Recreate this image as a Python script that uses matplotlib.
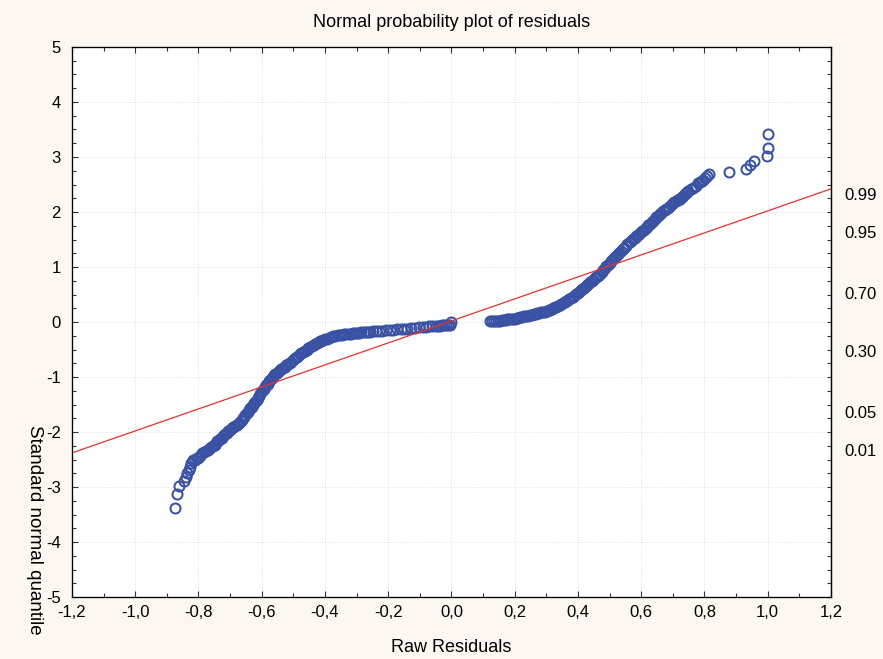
from statistics import NormalDist

import matplotlib
matplotlib.use("Agg")
from matplotlib import pyplot as plt
from matplotlib.ticker import MultipleLocator, FixedLocator

# raw residuals (x) and their standard normal quantiles (y)
raw_residuals = [
    # lower tail
    -0.874, -0.867, -0.861, -0.846, -0.840, -0.835, -0.830, -0.827, -0.824, -0.816,
    -0.810, -0.805, -0.801, -0.795, -0.788, -0.783, -0.777, -0.771, -0.766, -0.760, -0.753,
    # dense lower part
    -0.748, -0.744, -0.740, -0.736, -0.731, -0.727, -0.723, -0.719, -0.715, -0.711,
    -0.706, -0.700, -0.695, -0.690, -0.685, -0.679,
    -0.675, -0.671, -0.667, -0.663, -0.659, -0.656, -0.652, -0.648, -0.644, -0.640,
    -0.636, -0.632, -0.628, -0.624, -0.620, -0.616, -0.612, -0.608, -0.605, -0.601,
    -0.597, -0.593, -0.589, -0.585, -0.581, -0.577, -0.573, -0.569, -0.565, -0.561,
    -0.557, -0.553, -0.548, -0.543, -0.538, -0.532, -0.527, -0.522, -0.516, -0.511,
    -0.506, -0.500, -0.494, -0.489, -0.484, -0.479, -0.475, -0.470, -0.464, -0.458,
    -0.453, -0.447, -0.441, -0.436, -0.430, -0.425, -0.420, -0.415, -0.411, -0.406,
    -0.400, -0.394, -0.388, -0.381, -0.374, -0.367, -0.360, -0.353,
    # flat part up to zero
    -0.346, -0.339, -0.332, -0.325, -0.318, -0.311, -0.305, -0.299, -0.292, -0.285,
    -0.278, -0.271, -0.264, -0.257, -0.248, -0.238, -0.228, -0.218, -0.207, -0.194,
    -0.184, -0.172, -0.160, -0.150, -0.141, -0.128, -0.115, -0.104, -0.090, -0.080,
    -0.070, -0.060, -0.050, -0.041, -0.036, -0.030, -0.024, -0.018, -0.012, -0.006, 0.000,
    # positive group
    0.122, 0.128, 0.134, 0.140, 0.146, 0.153, 0.159, 0.165, 0.171, 0.177,
    0.183, 0.189, 0.194, 0.200, 0.206, 0.212, 0.218, 0.224, 0.230, 0.236,
    0.242, 0.248, 0.254, 0.260, 0.266, 0.272, 0.278, 0.284, 0.290, 0.296, 0.302,
    0.307, 0.312, 0.317, 0.322, 0.327, 0.332, 0.337, 0.343,
    0.348, 0.353, 0.358, 0.363, 0.368, 0.373, 0.378, 0.384,
    0.389, 0.394, 0.399, 0.404, 0.409, 0.414, 0.419, 0.424, 0.428,
    0.433, 0.438, 0.443, 0.448, 0.453, 0.458, 0.463, 0.470,
    0.475, 0.480, 0.485, 0.490, 0.495, 0.500, 0.505, 0.511,
    0.516, 0.521, 0.526, 0.531, 0.536, 0.541, 0.546, 0.551, 0.556, 0.564,
    0.569, 0.574, 0.579, 0.584, 0.589, 0.594, 0.599, 0.604, 0.609, 0.614, 0.618,
    0.623, 0.628, 0.633, 0.638, 0.643, 0.648, 0.653, 0.659,
    0.664, 0.669, 0.674, 0.679, 0.684, 0.689, 0.694, 0.700,
    0.705, 0.710, 0.715, 0.719, 0.723, 0.728, 0.733, 0.738, 0.742, 0.745,
    # upper tail
    0.749, 0.757, 0.765, 0.772, 0.780, 0.786, 0.791, 0.797, 0.802, 0.808, 0.814,
    0.877, 0.933, 0.944, 0.957, 0.999, 1.002, 1.001,
]
normal_quantiles = [
    -3.38, -3.13, -2.99, -2.89, -2.82, -2.75, -2.69, -2.63, -2.57, -2.51,
    -2.50, -2.48, -2.47, -2.44, -2.39, -2.37, -2.34, -2.33, -2.31, -2.28, -2.25,
    -2.23, -2.20, -2.17, -2.14, -2.12, -2.10, -2.08, -2.06, -2.04, -2.02,
    -1.99, -1.96, -1.93, -1.91, -1.89, -1.87,
    -1.85, -1.83, -1.80, -1.78, -1.75, -1.72, -1.69, -1.66, -1.63, -1.60,
    -1.57, -1.54, -1.51, -1.48, -1.45, -1.42, -1.38, -1.34, -1.31, -1.27,
    -1.24, -1.21, -1.18, -1.15, -1.12, -1.08, -1.05, -1.02, -1.00, -0.97,
    -0.95, -0.93, -0.91, -0.88, -0.86, -0.84, -0.81, -0.79, -0.76, -0.74,
    -0.72, -0.69, -0.66, -0.64, -0.61, -0.59, -0.57, -0.545, -0.52, -0.50,
    -0.48, -0.455, -0.435, -0.415, -0.40, -0.38, -0.365, -0.35, -0.34, -0.33,
    -0.315, -0.30, -0.285, -0.27, -0.26, -0.25, -0.24, -0.235,
    -0.23, -0.225, -0.22, -0.215, -0.21, -0.205, -0.20, -0.20, -0.195, -0.19,
    -0.185, -0.18, -0.178, -0.175, -0.17, -0.165, -0.16, -0.155, -0.15, -0.145,
    -0.14, -0.135, -0.13, -0.125, -0.12, -0.112, -0.105, -0.098, -0.09, -0.085,
    -0.08, -0.075, -0.07, -0.066, -0.065, -0.062, -0.06, -0.058, -0.055, -0.05, 0.0,
    0.010, 0.012, 0.015, 0.018, 0.022, 0.027, 0.032, 0.037, 0.042, 0.046,
    0.050, 0.053, 0.055, 0.062, 0.070, 0.078, 0.086, 0.094, 0.102, 0.110,
    0.118, 0.127, 0.135, 0.143, 0.151, 0.159, 0.167, 0.175, 0.183, 0.191, 0.200,
    0.212, 0.225, 0.238, 0.252, 0.266, 0.280, 0.295, 0.31,
    0.325, 0.342, 0.36, 0.378, 0.396, 0.415, 0.435, 0.455,
    0.478, 0.502, 0.527, 0.552, 0.577, 0.602, 0.627, 0.652, 0.673,
    0.697, 0.721, 0.745, 0.769, 0.793, 0.817, 0.840, 0.873,
    0.905, 0.94, 0.975, 1.01, 1.04, 1.07, 1.105, 1.145,
    1.175, 1.205, 1.235, 1.26, 1.29, 1.32, 1.35, 1.38, 1.41, 1.455,
    1.48, 1.505, 1.53, 1.555, 1.58, 1.605, 1.63, 1.655, 1.68, 1.705, 1.727,
    1.755, 1.785, 1.815, 1.845, 1.875, 1.905, 1.935, 1.964,
    1.985, 2.01, 2.035, 2.06, 2.08, 2.10, 2.125, 2.155,
    2.175, 2.20, 2.22, 2.235, 2.245, 2.27, 2.295, 2.32, 2.345, 2.364,
    2.39, 2.41, 2.43, 2.47, 2.52, 2.54, 2.56, 2.58, 2.61, 2.65, 2.69,
    2.72, 2.78, 2.85, 2.92, 3.02, 3.16, 3.41,
]

# fitted reference line
line_slope = 2.0
line_intercept = 0.02

x_ticks = [-1.2, -1.0, -0.8, -0.6, -0.4, -0.2, 0.0, 0.2, 0.4, 0.6, 0.8, 1.0, 1.2]
x_tick_labels = ["-1,2", "-1,0", "-0,8", "-0,6", "-0,4", "-0,2", "0,0",
                 "0,2", "0,4", "0,6", "0,8", "1,0", "1,2"]
y_ticks = [-5, -4, -3, -2, -1, 0, 1, 2, 3, 4, 5]
prob_ticks = [0.99, 0.95, 0.70, 0.30, 0.05, 0.01]
prob_labels = ["0.99", "0.95", "0.70", "0.30", "0.05", "0.01"]

narrow = ["Liberation Sans Narrow", "Liberation Sans", "DejaVu Sans"]
normal = ["Liberation Sans", "DejaVu Sans"]
blue = "#3A52A4"
red = "#E8302C"

fig = plt.figure(figsize=(8.83, 6.59), dpi=100, facecolor="#FCF7F1")
ax = fig.add_axes([0.0815, 0.094, 0.8595, 0.8347])
ax.set_facecolor("white")

ax.plot(raw_residuals, normal_quantiles, linestyle="none", marker="o",
        markersize=7.2, markerfacecolor="none", markeredgecolor=blue,
        markeredgewidth=1.45, zorder=3)
ax.axline((0, line_intercept), slope=line_slope, color=red, linewidth=0.9, zorder=4)

ax.set_xlim(-1.2, 1.2)
ax.set_ylim(-5, 5)
ax.set_xticks(x_ticks)
ax.set_xticklabels(x_tick_labels, family=narrow, fontsize=12)
ax.set_yticks(y_ticks)
ax.set_yticklabels([str(v) for v in y_ticks], family=normal, fontsize=12)
ax.xaxis.set_minor_locator(MultipleLocator(0.1))
ax.yaxis.set_minor_locator(MultipleLocator(0.25))
ax.tick_params(which="both", direction="in", top=True, right=False, color="#333333")
ax.tick_params(which="major", length=4, width=0.8)
ax.tick_params(which="minor", length=3, width=0.8)
ax.tick_params(axis="x", pad=6)
ax.tick_params(axis="y", pad=8)
ax.grid(True, which="major", color="#DDDDDD", linestyle=":", linewidth=0.7)
for s in ax.spines.values():
    s.set_color("#222222")
    s.set_linewidth(0.9)

# right axis: probabilities at their normal quantiles
dist = NormalDist()
ax2 = ax.twinx()
ax2.set_ylim(-5, 5)
ax2.yaxis.set_major_locator(FixedLocator([dist.inv_cdf(p) for p in prob_ticks]))
ax2.set_yticklabels(prob_labels, family=normal, fontsize=12)
ax2.yaxis.set_minor_locator(MultipleLocator(0.25))
ax2.tick_params(which="major", length=0, pad=10)
ax2.tick_params(which="minor", direction="in", length=3, width=0.8, color="#333333")
ax2.spines["right"].set_linewidth(0.9)

fig.text(0.511, 0.9666, "Normal probability plot of residuals", family=narrow,
         fontsize=13, ha="center", va="center")
fig.text(0.511, 0.0167, "Raw Residuals", family=narrow, fontsize=13,
         ha="center", va="center")
fig.text(0.0396, 0.355, "Standard normal quantile", family=normal, fontsize=13.5,
         rotation=-90, ha="center", va="top")

fig.savefig("out.png", dpi=100, facecolor=fig.get_facecolor())
